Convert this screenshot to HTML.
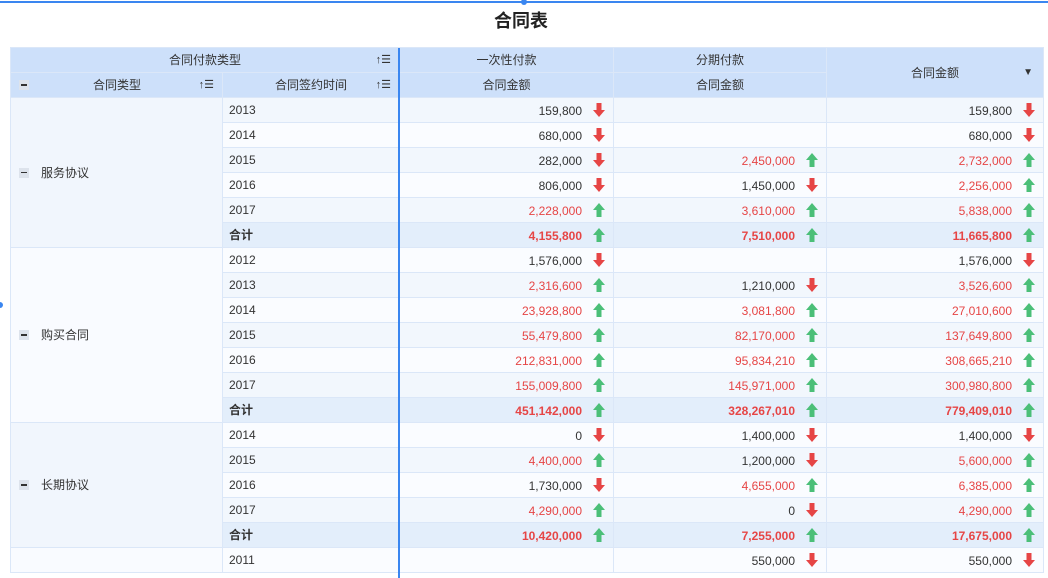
<!DOCTYPE html>
<html><head><meta charset="utf-8"><style>
body{margin:0;width:1048px;height:578px;overflow:hidden;background:#fff;font-family:"Liberation Sans","Noto Sans CJK SC",sans-serif;font-size:12px;color:#333;position:relative}
.top{position:absolute;left:0;top:1px;width:1048px;height:2px;background:#3a86f0}
.dot{position:absolute;width:6px;height:6px;border-radius:3px;background:#3a86f0}
h1{position:absolute;top:8px;left:-3px;width:1048px;text-align:center;margin:0;font-size:18px;font-weight:bold;color:#222;line-height:26px}
table{position:absolute;left:10px;top:47px;border-collapse:collapse;table-layout:fixed;width:1033px}
tr{height:25px}
td{height:24px;padding:0;border:1px solid #dbe7f8;white-space:nowrap;overflow:hidden;line-height:14px}
.h td{background:#cde0fa;text-align:center;position:relative}
.r td.y{padding-left:6px}
.n{text-align:right}
.o td{background:#f2f7fd}.e td{background:#fafcff}.t td{background:#e3eefb;font-weight:bold}
td.g{vertical-align:middle;padding-left:8px}
.g1{background:#f1f6fd!important}.g2{background:#f9fbff!important}
.red{color:#e64545}
i{display:inline-block;width:12px;height:14px;margin:0 8px 0 11px;vertical-align:-2px}
i svg{display:block}
.mn{display:inline-block;width:10px;height:10px;background:#dde3ec;vertical-align:-1px;margin-right:12px;position:relative}
.mn:after{content:"";position:absolute;left:2px;top:4px;width:6px;height:1.5px;background:#333}
.si{position:absolute;right:8px;top:5px;font-size:11px;color:#333}
.vl{position:absolute;left:398px;top:48px;width:2px;height:530px;background:#3a86f0}
</style></head><body>
<div class="top"></div><div class="dot" style="left:521px;top:-1px"></div><div class="dot" style="left:-3px;top:302px"></div>
<h1>合同表</h1>
<svg width="0" height="0" style="position:absolute"><defs>
<symbol id="dn" viewBox="0 0 12 14"><path d="M6 14L0 7h3.5V0h5v7h3.5z" fill="#e64545"/></symbol>
<symbol id="up" viewBox="0 0 12 14"><path d="M6 0L0 7h3.5V14h5V7h3.5z" fill="#4bbf78"/></symbol></defs></svg>
<table>
<colgroup><col style="width:212px"><col style="width:177px"><col style="width:214px"><col style="width:213px"><col style="width:217px"></colgroup>
<tr class="h"><td colspan="2">合同付款类型<span class="si">↑☰</span></td><td>一次性付款</td><td>分期付款</td><td rowspan="2">合同金额<span class="si" style="top:18px;right:10px;font-size:10px">▼</span></td></tr>
<tr class="h"><td style="text-align:left;padding-left:8px"><span class="mn"></span><span style="position:absolute;left:82px;top:5px">合同类型</span><span class="si">↑☰</span></td><td>合同签约时间<span class="si">↑☰</span></td><td>合同金额</td><td>合同金额</td></tr>
<tr class="o r"><td rowspan="6" class="g g1"><span class="mn"></span>服务协议</td><td class="y">2013</td><td class="n">159,800<i><svg width="12" height="14"><use href="#dn"/></svg></i></td><td></td><td class="n">159,800<i><svg width="12" height="14"><use href="#dn"/></svg></i></td></tr>
<tr class="e r"><td class="y">2014</td><td class="n">680,000<i><svg width="12" height="14"><use href="#dn"/></svg></i></td><td></td><td class="n">680,000<i><svg width="12" height="14"><use href="#dn"/></svg></i></td></tr>
<tr class="o r"><td class="y">2015</td><td class="n">282,000<i><svg width="12" height="14"><use href="#dn"/></svg></i></td><td class="n red">2,450,000<i><svg width="12" height="14"><use href="#up"/></svg></i></td><td class="n red">2,732,000<i><svg width="12" height="14"><use href="#up"/></svg></i></td></tr>
<tr class="e r"><td class="y">2016</td><td class="n">806,000<i><svg width="12" height="14"><use href="#dn"/></svg></i></td><td class="n">1,450,000<i><svg width="12" height="14"><use href="#dn"/></svg></i></td><td class="n red">2,256,000<i><svg width="12" height="14"><use href="#up"/></svg></i></td></tr>
<tr class="o r"><td class="y">2017</td><td class="n red">2,228,000<i><svg width="12" height="14"><use href="#up"/></svg></i></td><td class="n red">3,610,000<i><svg width="12" height="14"><use href="#up"/></svg></i></td><td class="n red">5,838,000<i><svg width="12" height="14"><use href="#up"/></svg></i></td></tr>
<tr class="t r"><td class="y">合计</td><td class="n red">4,155,800<i><svg width="12" height="14"><use href="#up"/></svg></i></td><td class="n red">7,510,000<i><svg width="12" height="14"><use href="#up"/></svg></i></td><td class="n red">11,665,800<i><svg width="12" height="14"><use href="#up"/></svg></i></td></tr>
<tr class="e r"><td rowspan="7" class="g g2"><span class="mn"></span>购买合同</td><td class="y">2012</td><td class="n">1,576,000<i><svg width="12" height="14"><use href="#dn"/></svg></i></td><td></td><td class="n">1,576,000<i><svg width="12" height="14"><use href="#dn"/></svg></i></td></tr>
<tr class="o r"><td class="y">2013</td><td class="n red">2,316,600<i><svg width="12" height="14"><use href="#up"/></svg></i></td><td class="n">1,210,000<i><svg width="12" height="14"><use href="#dn"/></svg></i></td><td class="n red">3,526,600<i><svg width="12" height="14"><use href="#up"/></svg></i></td></tr>
<tr class="e r"><td class="y">2014</td><td class="n red">23,928,800<i><svg width="12" height="14"><use href="#up"/></svg></i></td><td class="n red">3,081,800<i><svg width="12" height="14"><use href="#up"/></svg></i></td><td class="n red">27,010,600<i><svg width="12" height="14"><use href="#up"/></svg></i></td></tr>
<tr class="o r"><td class="y">2015</td><td class="n red">55,479,800<i><svg width="12" height="14"><use href="#up"/></svg></i></td><td class="n red">82,170,000<i><svg width="12" height="14"><use href="#up"/></svg></i></td><td class="n red">137,649,800<i><svg width="12" height="14"><use href="#up"/></svg></i></td></tr>
<tr class="e r"><td class="y">2016</td><td class="n red">212,831,000<i><svg width="12" height="14"><use href="#up"/></svg></i></td><td class="n red">95,834,210<i><svg width="12" height="14"><use href="#up"/></svg></i></td><td class="n red">308,665,210<i><svg width="12" height="14"><use href="#up"/></svg></i></td></tr>
<tr class="o r"><td class="y">2017</td><td class="n red">155,009,800<i><svg width="12" height="14"><use href="#up"/></svg></i></td><td class="n red">145,971,000<i><svg width="12" height="14"><use href="#up"/></svg></i></td><td class="n red">300,980,800<i><svg width="12" height="14"><use href="#up"/></svg></i></td></tr>
<tr class="t r"><td class="y">合计</td><td class="n red">451,142,000<i><svg width="12" height="14"><use href="#up"/></svg></i></td><td class="n red">328,267,010<i><svg width="12" height="14"><use href="#up"/></svg></i></td><td class="n red">779,409,010<i><svg width="12" height="14"><use href="#up"/></svg></i></td></tr>
<tr class="e r"><td rowspan="5" class="g g1"><span class="mn"></span>长期协议</td><td class="y">2014</td><td class="n">0<i><svg width="12" height="14"><use href="#dn"/></svg></i></td><td class="n">1,400,000<i><svg width="12" height="14"><use href="#dn"/></svg></i></td><td class="n">1,400,000<i><svg width="12" height="14"><use href="#dn"/></svg></i></td></tr>
<tr class="o r"><td class="y">2015</td><td class="n red">4,400,000<i><svg width="12" height="14"><use href="#up"/></svg></i></td><td class="n">1,200,000<i><svg width="12" height="14"><use href="#dn"/></svg></i></td><td class="n red">5,600,000<i><svg width="12" height="14"><use href="#up"/></svg></i></td></tr>
<tr class="e r"><td class="y">2016</td><td class="n">1,730,000<i><svg width="12" height="14"><use href="#dn"/></svg></i></td><td class="n red">4,655,000<i><svg width="12" height="14"><use href="#up"/></svg></i></td><td class="n red">6,385,000<i><svg width="12" height="14"><use href="#up"/></svg></i></td></tr>
<tr class="o r"><td class="y">2017</td><td class="n red">4,290,000<i><svg width="12" height="14"><use href="#up"/></svg></i></td><td class="n">0<i><svg width="12" height="14"><use href="#dn"/></svg></i></td><td class="n red">4,290,000<i><svg width="12" height="14"><use href="#up"/></svg></i></td></tr>
<tr class="t r"><td class="y">合计</td><td class="n red">10,420,000<i><svg width="12" height="14"><use href="#up"/></svg></i></td><td class="n red">7,255,000<i><svg width="12" height="14"><use href="#up"/></svg></i></td><td class="n red">17,675,000<i><svg width="12" height="14"><use href="#up"/></svg></i></td></tr>
<tr class="e r"><td class="g g2"></td><td class="y">2011</td><td></td><td class="n">550,000<i><svg width="12" height="14"><use href="#dn"/></svg></i></td><td class="n">550,000<i><svg width="12" height="14"><use href="#dn"/></svg></i></td></tr>
</table>
<div class="vl"></div>
</body></html>
